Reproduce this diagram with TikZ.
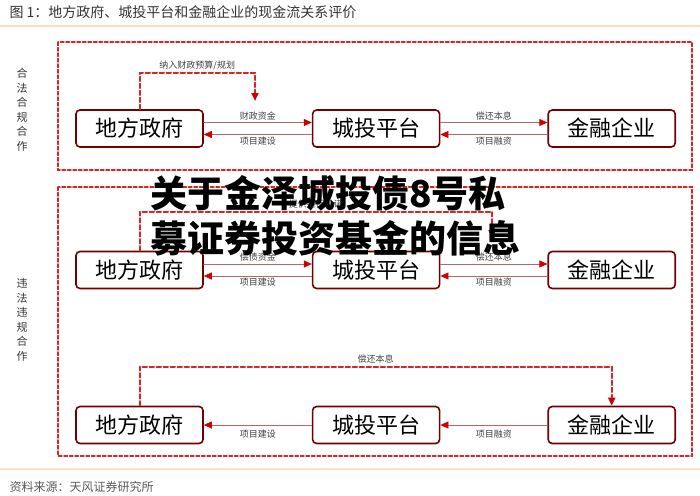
\documentclass[tikz,border=0pt]{standalone}
\usepackage{fontspec}
\setmainfont{Noto Sans CJK SC}
\usetikzlibrary{positioning,arrows.meta}

\begin{document}
\begin{tikzpicture}
		[x=1pt,y=-1pt,line cap=round,
		%Styles
		party/.style={draw=boxcolor,line width=1.6pt,rounded corners=4pt,fill=white,
			minimum width=127pt,minimum height=37pt,inner sep=0pt,font=\fontsize{22}{22}\selectfont},
		flow/.style={draw=linecolor,line width=0.7pt,-{Triangle[length=8pt,width=7pt,color=tipcolor]}},
		dash flow/.style={draw=dashcolor,line width=2pt,dash pattern=on 4.5pt off 2.5pt,
			-{Triangle[length=8pt,width=7pt,color=tipcolor]}},
		zone/.style={draw=dashcolor,line width=1.4pt,dash pattern=on 3.5pt off 2pt},
		flow text/.style={font=\fontsize{9}{9}\selectfont,text=black!75,inner sep=2pt},
		side text/.style={font=\fontsize{11}{14.5}\selectfont,align=center,text=black!80},
		overlay text/.style={font=\fontsize{37}{37}\selectfont\bfseries,anchor=west,inner sep=0pt}
		]
		
		%Colors
		\colorlet{boxcolor}{red!45!black}		%box borders
		\colorlet{linecolor}{red!55!black!60}	%solid flows
		\colorlet{tipcolor}{red!80!black}		%arrow tips
		\colorlet{dashcolor}{red!80!black!85}	%dashed flows and zones
		
		\useasboundingbox (0,0) rectangle (700,495);
		
		%Title and source
		\node[anchor=west,font=\fontsize{14}{14}\selectfont,text=black!80] (title) at (6,12)
			{图 1：地方政府、城投平台和金融企业的现金流关系评价};
		\draw[orange!25,line width=1.2pt] (0,26) -- (700,26);
		\draw[orange!25,line width=1.2pt] (0,469) -- (700,469);
		\node[anchor=west,font=\fontsize{12}{12}\selectfont,text=black!65] (source) at (6,487)
			{资料来源：天风证券研究所};
		
		%Zones
		\draw[zone] (58,42) rectangle (692,170);
		\draw[zone] (58,187) rectangle (692,456);
		\node[side text] (legal) at (22,110) {合\\法\\合\\规\\合\\作};
		\node[side text] (illegal) at (22,320) {违\\法\\违\\规\\合\\作};
		
		%The graphic: legal
		\node[party] (gov1) at (139.5,128.5) {地方政府};
		\node[party,right=108pt of gov1] (lgfv1) {城投平台};
		\node[party,right=107pt of lgfv1] (bank1) {金融企业};
		\coordinate (budget1) at (255,101);
		
		\draw[flow] ([yshift=6pt]gov1.east) -- node[flow text,above]{财政资金} ([yshift=6pt]lgfv1.west);
		\draw[flow] ([yshift=-6pt]lgfv1.west) -- node[flow text,below]{项目建设} ([yshift=-6pt]gov1.east);
		\draw[flow] ([yshift=6pt]lgfv1.east) -- node[flow text,above]{偿还本息} ([yshift=6pt]bank1.west);
		\draw[flow] ([yshift=-6pt]bank1.west) -- node[flow text,below]{项目融资} ([yshift=-6pt]lgfv1.east);
		\draw[dash flow] (gov1.north) -- ++(0,-36) -| node[flow text,above,pos=0.25]{纳入财政预算/规划} (budget1);
		
		%The graphic: illegal
		\node[party] (gov2) at (139.5,270) {地方政府};
		\node[party,right=108pt of gov2] (lgfv2) {城投平台};
		\node[party,right=107pt of lgfv2] (bank2) {金融企业};
		\coordinate (pledge2) at (492,238);
		
		\draw[flow] ([yshift=6pt]gov2.east) -- node[flow text,above]{偿债资金} ([yshift=6pt]lgfv2.west);
		\draw[flow] ([yshift=-6pt]lgfv2.west) -- node[flow text,below]{项目建设} ([yshift=-6pt]gov2.east);
		\draw[flow] ([yshift=6pt]lgfv2.east) -- node[flow text,above]{偿还本息} ([yshift=6pt]bank2.west);
		\draw[flow] ([yshift=-6pt]bank2.west) -- node[flow text,below]{项目融资} ([yshift=-6pt]lgfv2.east);
		\draw[dash flow] (gov2.north) -- ++(0,-39) -| node[flow text,above,pos=0.25]{提供担保承诺} (pledge2);
		
		\node[party] (gov3) at (139.5,425) {地方政府};
		\node[party,right=108pt of gov3] (lgfv3) {城投平台};
		\node[party,right=107pt of lgfv3] (bank3) {金融企业};
		
		\draw[flow] (lgfv3) -- node[flow text,below=3pt]{项目建设} (gov3);
		\draw[flow] (bank3) -- node[flow text,below=3pt]{项目融资} (lgfv3);
		\draw[dash flow] (gov3.north) -- ++(0,-39) -| node[flow text,above,pos=0.25]{偿还本息} (bank3.north);
		
		%Overlay
		\node[overlay text] (head1) at (150,193) {关于金泽城投债8号私};
		\node[overlay text] (head2) at (150,238) {募证券投资基金的信息};
	\end{tikzpicture}
\end{document}
